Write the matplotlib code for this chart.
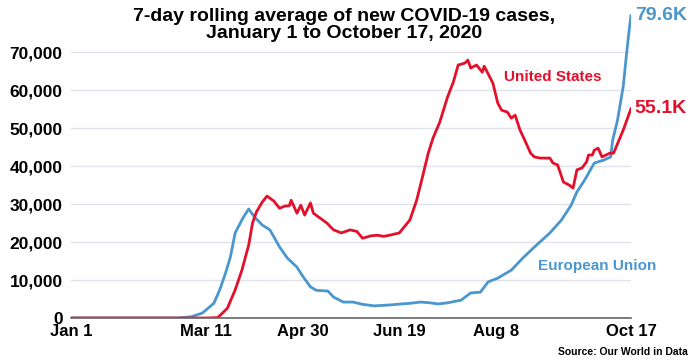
import matplotlib.pyplot as plt

# days since Jan 1, 2020 and 7-day average of new cases
us_day = [0, 60, 70, 76, 81, 85, 88.5, 92, 94, 96, 99, 101.5, 105, 108, 111, 113, 114, 117,
          119, 121, 124, 125.5, 129, 132.5, 136, 140, 144.5, 148, 151, 155, 158.5, 162, 165,
          170, 175.5, 179, 182, 185, 187.5, 191, 195, 198, 200.5, 204, 205.5, 207, 210, 213,
          214, 218.5, 221, 223, 226, 228, 230, 232.5, 235, 238, 240, 243, 248, 249.6, 252,
          255, 258, 260, 262, 264.6, 267, 268, 270, 271, 273, 275, 279, 281, 286, 290]
us_val = [0, 0, 0, 100, 2600, 7400, 12600, 19200, 25000, 27900, 30500, 32100, 30800, 28900,
          29500, 29500, 31000, 27600, 29700, 27100, 30300, 27600, 26300, 25000, 23200, 22400,
          23200, 22800, 21000, 21600, 21800, 21500, 21800, 22400, 25800, 31000, 37100, 43400,
          47400, 51600, 58200, 62100, 66600, 67100, 67900, 65800, 66600, 64700, 66300, 61800,
          56600, 54700, 54200, 52600, 53400, 49500, 46800, 43400, 42400, 42100, 42100, 40800,
          40300, 35800, 35000, 34200, 39000, 39500, 41100, 42900, 42900, 44200, 44700, 42400,
          43400, 43400, 49500, 55100]

eu_day = [0, 55, 62, 68, 74, 77, 80, 82.5, 85, 89, 92, 95, 99, 103, 108, 112, 117, 120, 124,
          127, 133, 136, 141, 146, 151, 157, 164, 171, 176, 181, 186, 190, 195, 200, 202, 207,
          212, 216, 221, 228, 234, 240, 248, 254, 259, 262, 266, 271, 276, 279.5, 280.5, 283,
          285, 286, 287, 288, 289, 290]
eu_val = [0, 0, 300, 1300, 3900, 7400, 11800, 16000, 22400, 26300, 28700, 26600, 24500, 23200,
          18700, 15800, 13400, 11000, 8200, 7300, 7100, 5500, 4200, 4200, 3600, 3200, 3400,
          3700, 3900, 4200, 4000, 3700, 4000, 4500, 4700, 6600, 6800, 9500, 10500, 12600,
          15800, 18700, 22400, 25800, 29700, 33200, 36300, 40800, 41600, 42400, 46800, 52000,
          58000, 61000, 66000, 71000, 75500, 79600]

tick_days = [0, 70, 120, 170, 220, 290]
tick_labels = ["Jan 1", "Mar 11", "Apr 30", "Jun 19", "Aug 8", "Oct 17"]
y_ticks = [0, 10000, 20000, 30000, 40000, 50000, 60000, 70000]

red = "#e3102b"
blue = "#4a97cf"

plt.rcParams['font.family'] = ['Liberation Sans Narrow', 'Liberation Sans', 'DejaVu Sans']
plt.rcParams['font.weight'] = 'bold'

fig = plt.figure(figsize=(6.93, 3.62), dpi=100)
ax = fig.add_axes([0.1025, 0.1215, 0.808, 0.8395])

ax.plot(eu_day, eu_val, color=blue, lw=2.0, solid_joinstyle='round')
ax.plot(us_day, us_val, color=red, lw=2.0, solid_joinstyle='round')

ax.set_xlim(0, 290)
ax.set_ylim(0, 80000)
ax.set_yticks(y_ticks)
ax.set_yticklabels([f"{v:,}" for v in y_ticks])
ax.set_xticks(tick_days)
ax.set_xticklabels(tick_labels)
ax.tick_params(axis='y', length=0, labelsize=12.5, pad=6)
ax.tick_params(axis='x', length=0, labelsize=12, pad=4)
ax.grid(axis='y', color='#e2e2ec', lw=1)
ax.set_axisbelow(True)
for s in ['top', 'right', 'left']:
    ax.spines[s].set_visible(False)
ax.spines['bottom'].set_color('#666666')
ax.spines['bottom'].set_linewidth(1.2)

ax.text(224, 63500, "United States", color=red, fontsize=11, ha='left', va='center')
ax.text(242, 13800, "European Union", color=blue, fontsize=11, ha='left', va='center')
ax.text(292, us_val[-1], "55.1K", color=red, fontsize=14, ha='left', va='center', clip_on=False)
ax.text(292, eu_val[-1], "79.6K", color=blue, fontsize=14, ha='left', va='center', clip_on=False)

fig.text(0.497, 0.931, "7-day rolling average of new COVID-19 cases,\nJanuary 1 to October 17, 2020",
         ha='center', va='center', fontsize=14, linespacing=1.0)
fig.text(0.992, 0.027, "Source: Our World in Data", ha='right', va='center', fontsize=7.5)

fig.savefig("out.png", dpi=100)
